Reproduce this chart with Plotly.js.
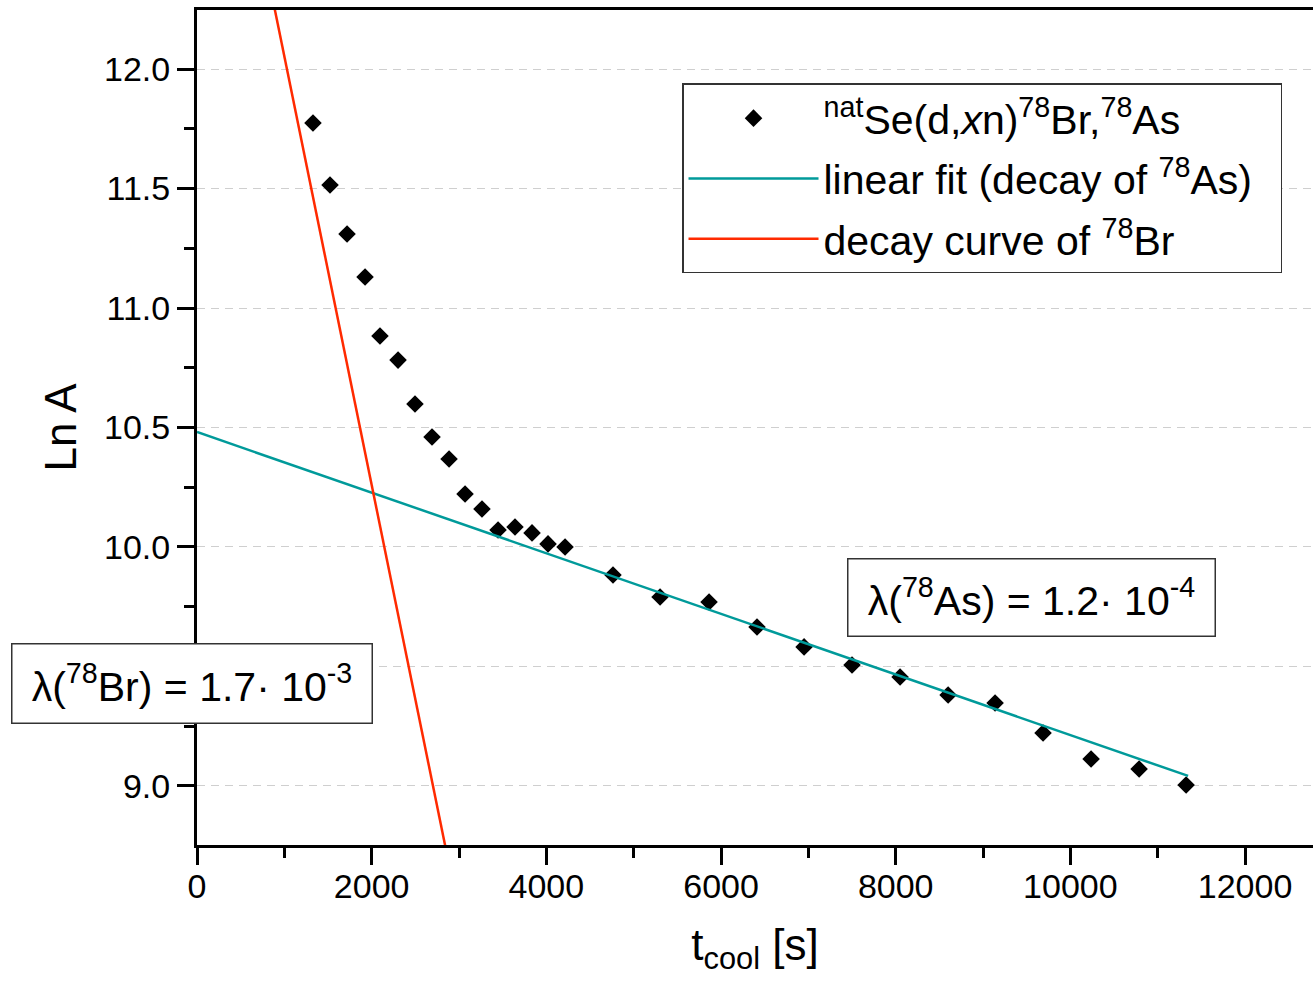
<!DOCTYPE html>
<html>
<head>
<meta charset="utf-8">
<script src="https://cdn.plot.ly/plotly-3.0.1.min.js"></script>
<style>html,body{margin:0;padding:0;background:#fff;}#chart{width:1313px;height:981px;}</style>
</head>
<body>
<div id="chart"></div>
<script>
// measured data: cooling time [s] and ln of activity
const tCool = [1328, 1523, 1718, 1924, 2095, 2302, 2496, 2691, 2886, 3069, 3263, 3447, 3641, 3836, 4019, 4214,
               4763, 5302, 5863, 6412, 6951, 7500, 8050, 8600, 9138, 9687, 10237, 10787, 11325];
const lnA   = [11.774, 11.515, 11.310, 11.130, 10.883, 10.782, 10.598, 10.460, 10.368, 10.222, 10.159, 10.071, 10.084, 10.059, 10.013, 10.000,
               9.883, 9.791, 9.770, 9.665, 9.582, 9.506, 9.456, 9.381, 9.347, 9.222, 9.113, 9.071, 9.004];
// linear fit (decay of 78As) endpoints
const fitX = [0, 11348];
const fitY = [10.481, 9.042];
// decay curve of 78Br endpoints
const brX = [751, 2981];
const brY = [12.5, 8.5];

// y tick values and labels (the 9.5 label is hidden behind the lambda box in the original)
const yTickVals = [9.0, 9.5, 10.0, 10.5, 11.0, 11.5, 12.0];
const yTickText = ['9.0', '', '10.0', '10.5', '11.0', '11.5', '12.0'];

const seriesNames = [
  '<sup>nat</sup>Se(d,<i>x</i>n)<sup>78</sup>Br,<sup>78</sup>As',
  'linear fit (decay of <sup>78</sup>As)\u00A0\u00A0',
  'decay curve of <sup>78</sup>Br'
];
const xTitle = 't<sub>cool</sub> [s]';
const yTitle = 'Ln A';
const lamAs = 'λ(<sup>78</sup>As) = 1.2· 10<sup>-4</sup>';
const lamBr = 'λ(<sup>78</sup>Br) = 1.7· 10<sup>-3</sup>';

const FONT = 'Liberation Sans, Arial, Helvetica, sans-serif';

const traces = [
  {x: tCool, y: lnA, mode: 'markers', type: 'scatter', name: seriesNames[0], legendgroup: 'g1',
   marker: {symbol: 'diamond', size: 13.5, color: '#000'}},
  {x: fitX, y: fitY, mode: 'lines', type: 'scatter', name: seriesNames[1], legendgroup: 'g2',
   line: {color: '#009a9a', width: 2.5}},
  {x: brX, y: brY, mode: 'lines', type: 'scatter', name: seriesNames[2], legendgroup: 'g3',
   line: {color: '#ff2a00', width: 2.5}}
];

const layout = {
  width: 1313, height: 981,
  margin: {l: 197, r: 0, t: 10, b: 136},
  paper_bgcolor: '#fff', plot_bgcolor: '#fff',
  font: {family: FONT, color: '#000', size: 34},
  showlegend: true,
  legend: {
    x: 0.4346, y: 0.912, xanchor: 'left', yanchor: 'top',
    bgcolor: '#fff', bordercolor: '#333', borderwidth: 1.5,
    font: {family: FONT, size: 41, color: '#000'},
    itemwidth: 130, tracegroupgap: 4
  },
  xaxis: {
    range: [0, 12778], autorange: false,
    dtick: 2000, tick0: 0, tickformat: 'd',
    ticks: 'outside', ticklen: 17, tickwidth: 3, tickcolor: '#000',
    minor: {dtick: 1000, ticks: 'outside', ticklen: 10, tickwidth: 3, tickcolor: '#000', showgrid: false},
    showline: true, linewidth: 3, linecolor: '#000', mirror: true,
    showgrid: false, zeroline: false,
    ticklabelstandoff: -8,
    tickfont: {family: FONT, size: 34},
    title: {text: xTitle, font: {family: FONT, size: 44}, standoff: 26}
  },
  yaxis: {
    range: [8.753, 12.247], autorange: false,
    tickmode: 'array', tickvals: yTickVals, ticktext: yTickText,
    ticks: 'outside', ticklen: 17, tickwidth: 3, tickcolor: '#000',
    minor: {dtick: 0.25, tick0: 9, ticks: 'outside', ticklen: 10, tickwidth: 3, tickcolor: '#000', showgrid: false},
    showline: true, linewidth: 3, linecolor: '#000',
    showgrid: true, gridcolor: '#cfcfcf', gridwidth: 1, griddash: '8px,6px',
    zeroline: false,
    tickfont: {family: FONT, size: 34},
    title: {text: yTitle, font: {family: FONT, size: 44}, standoff: 14}
  },
  annotations: [
    {xref: 'paper', yref: 'paper', x: 0.748, y: 0.297, xanchor: 'center', yanchor: 'middle',
     text: lamAs, showarrow: false, font: {family: FONT, size: 41, color: '#000'},
     bgcolor: '#fff', bordercolor: '#333', borderwidth: 1.5, borderpad: 0, width: 366, height: 76},
    {xref: 'paper', yref: 'paper', x: -0.0045, y: 0.1934, xanchor: 'center', yanchor: 'middle',
     text: lamBr, showarrow: false, font: {family: FONT, size: 41, color: '#000'},
     bgcolor: '#fff', bordercolor: '#333', borderwidth: 1.5, borderpad: 0, width: 359, height: 78}
  ]
};

Plotly.newPlot('chart', traces, layout, {staticPlot: true, displayModeBar: false});
</script>
</body>
</html>
